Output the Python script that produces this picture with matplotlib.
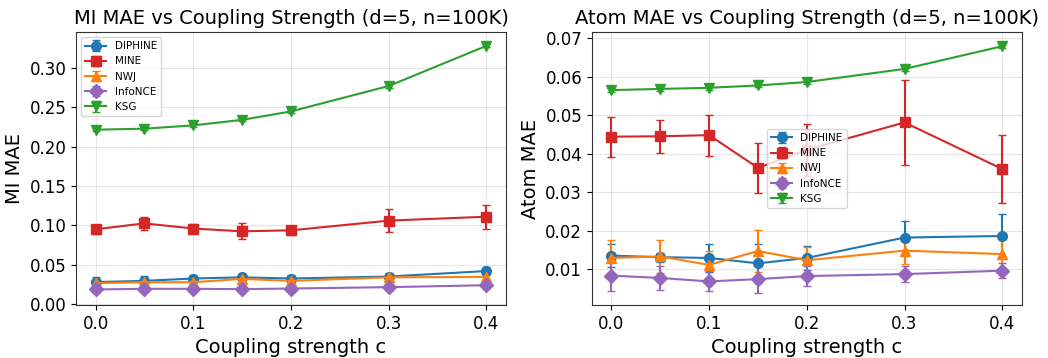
import numpy as np
import matplotlib
matplotlib.use('Agg')
import matplotlib.pyplot as plt
from matplotlib.ticker import MultipleLocator

coupling = [0.0, 0.05, 0.1, 0.15, 0.2, 0.3, 0.4]
xticks = [0.0, 0.1, 0.2, 0.3, 0.4]
methods = ['DIPHINE', 'MINE', 'NWJ', 'InfoNCE', 'KSG']

# MI MAE (left panel)
mi_mean = {
    'DIPHINE': [0.028, 0.0295, 0.0325, 0.034, 0.0325, 0.035, 0.042],
    'MINE':    [0.095, 0.1025, 0.096, 0.0924, 0.0937, 0.106, 0.111],
    'NWJ':     [0.0266, 0.0278, 0.0278, 0.032, 0.0295, 0.034, 0.0346],
    'InfoNCE': [0.0186, 0.0194, 0.0194, 0.019, 0.0198, 0.0215, 0.024],
    'KSG':     [0.2215, 0.2228, 0.227, 0.234, 0.2447, 0.277, 0.328],
}
mi_err = {
    'DIPHINE': [0.007, 0.006, 0.004, 0.004, 0.004, 0.004, 0.005],
    'MINE':    [0.006, 0.0085, 0.006, 0.010, 0.006, 0.0145, 0.015],
    'NWJ':     [0.003, 0.003, 0.003, 0.004, 0.003, 0.003, 0.004],
    'InfoNCE': [0.004, 0.004, 0.004, 0.004, 0.003, 0.003, 0.004],
    'KSG':     [0.002, 0.002, 0.002, 0.002, 0.002, 0.002, 0.002],
}

# Atom MAE (right panel)
atom_mean = {
    'DIPHINE': [0.0135, 0.0131, 0.0129, 0.0115, 0.0129, 0.0182, 0.0186],
    'MINE':    [0.0444, 0.0445, 0.0448, 0.0363, 0.041, 0.0481, 0.036],
    'NWJ':     [0.0129, 0.0133, 0.0111, 0.0147, 0.0123, 0.0148, 0.0139],
    'InfoNCE': [0.0083, 0.0077, 0.0068, 0.0074, 0.0082, 0.0087, 0.0096],
    'KSG':     [0.0565, 0.0568, 0.0571, 0.0577, 0.0586, 0.062, 0.0679],
}
atom_err = {
    'DIPHINE': [0.003, 0.0012, 0.0036, 0.005, 0.003, 0.0044, 0.0056],
    'MINE':    [0.0052, 0.0043, 0.0053, 0.0065, 0.0067, 0.011, 0.0089],
    'NWJ':     [0.0046, 0.0042, 0.0036, 0.0054, 0.0035, 0.0035, 0.004],
    'InfoNCE': [0.004, 0.003, 0.0026, 0.0035, 0.0025, 0.002, 0.002],
    'KSG':     [0.0005, 0.0005, 0.0005, 0.0005, 0.0005, 0.0005, 0.0005],
}

colors = {'DIPHINE': 'tab:blue', 'MINE': 'tab:red', 'NWJ': 'tab:orange',
          'InfoNCE': 'tab:purple', 'KSG': 'tab:green'}
markers = {'DIPHINE': 'o', 'MINE': 's', 'NWJ': '^', 'InfoNCE': 'D', 'KSG': 'v'}

fig, axes = plt.subplots(1, 2, figsize=(10.48, 3.58), dpi=100)

def draw(ax, mean, err, ylabel, title, legend_loc, ystep):
    for m in methods:
        ax.errorbar(coupling, mean[m], yerr=err[m], label=m, color=colors[m],
                    marker=markers[m], markersize=7, capsize=3, linewidth=1.5)
    ax.set_xticks(xticks)
    ax.yaxis.set_major_locator(MultipleLocator(ystep))
    ax.set_xlabel('Coupling strength c', fontsize=14)
    ax.set_ylabel(ylabel, fontsize=14)
    ax.set_title(title, fontsize=14)
    ax.grid(True, alpha=0.3)
    ax.tick_params(labelsize=12)
    for s in ax.spines.values():
        s.set_edgecolor('#333333')
    ax.legend(loc=legend_loc, fontsize=7.5)

draw(axes[0], mi_mean, mi_err, 'MI MAE', 'MI MAE vs Coupling Strength (d=5, n=100K)', 'upper left', 0.05)
draw(axes[1], atom_mean, atom_err, 'Atom MAE', 'Atom MAE vs Coupling Strength (d=5, n=100K)', 'center', 0.01)

fig.subplots_adjust(left=0.0725, right=0.975, top=0.911, bottom=0.148, wspace=0.2)
plt.savefig('out.png')
